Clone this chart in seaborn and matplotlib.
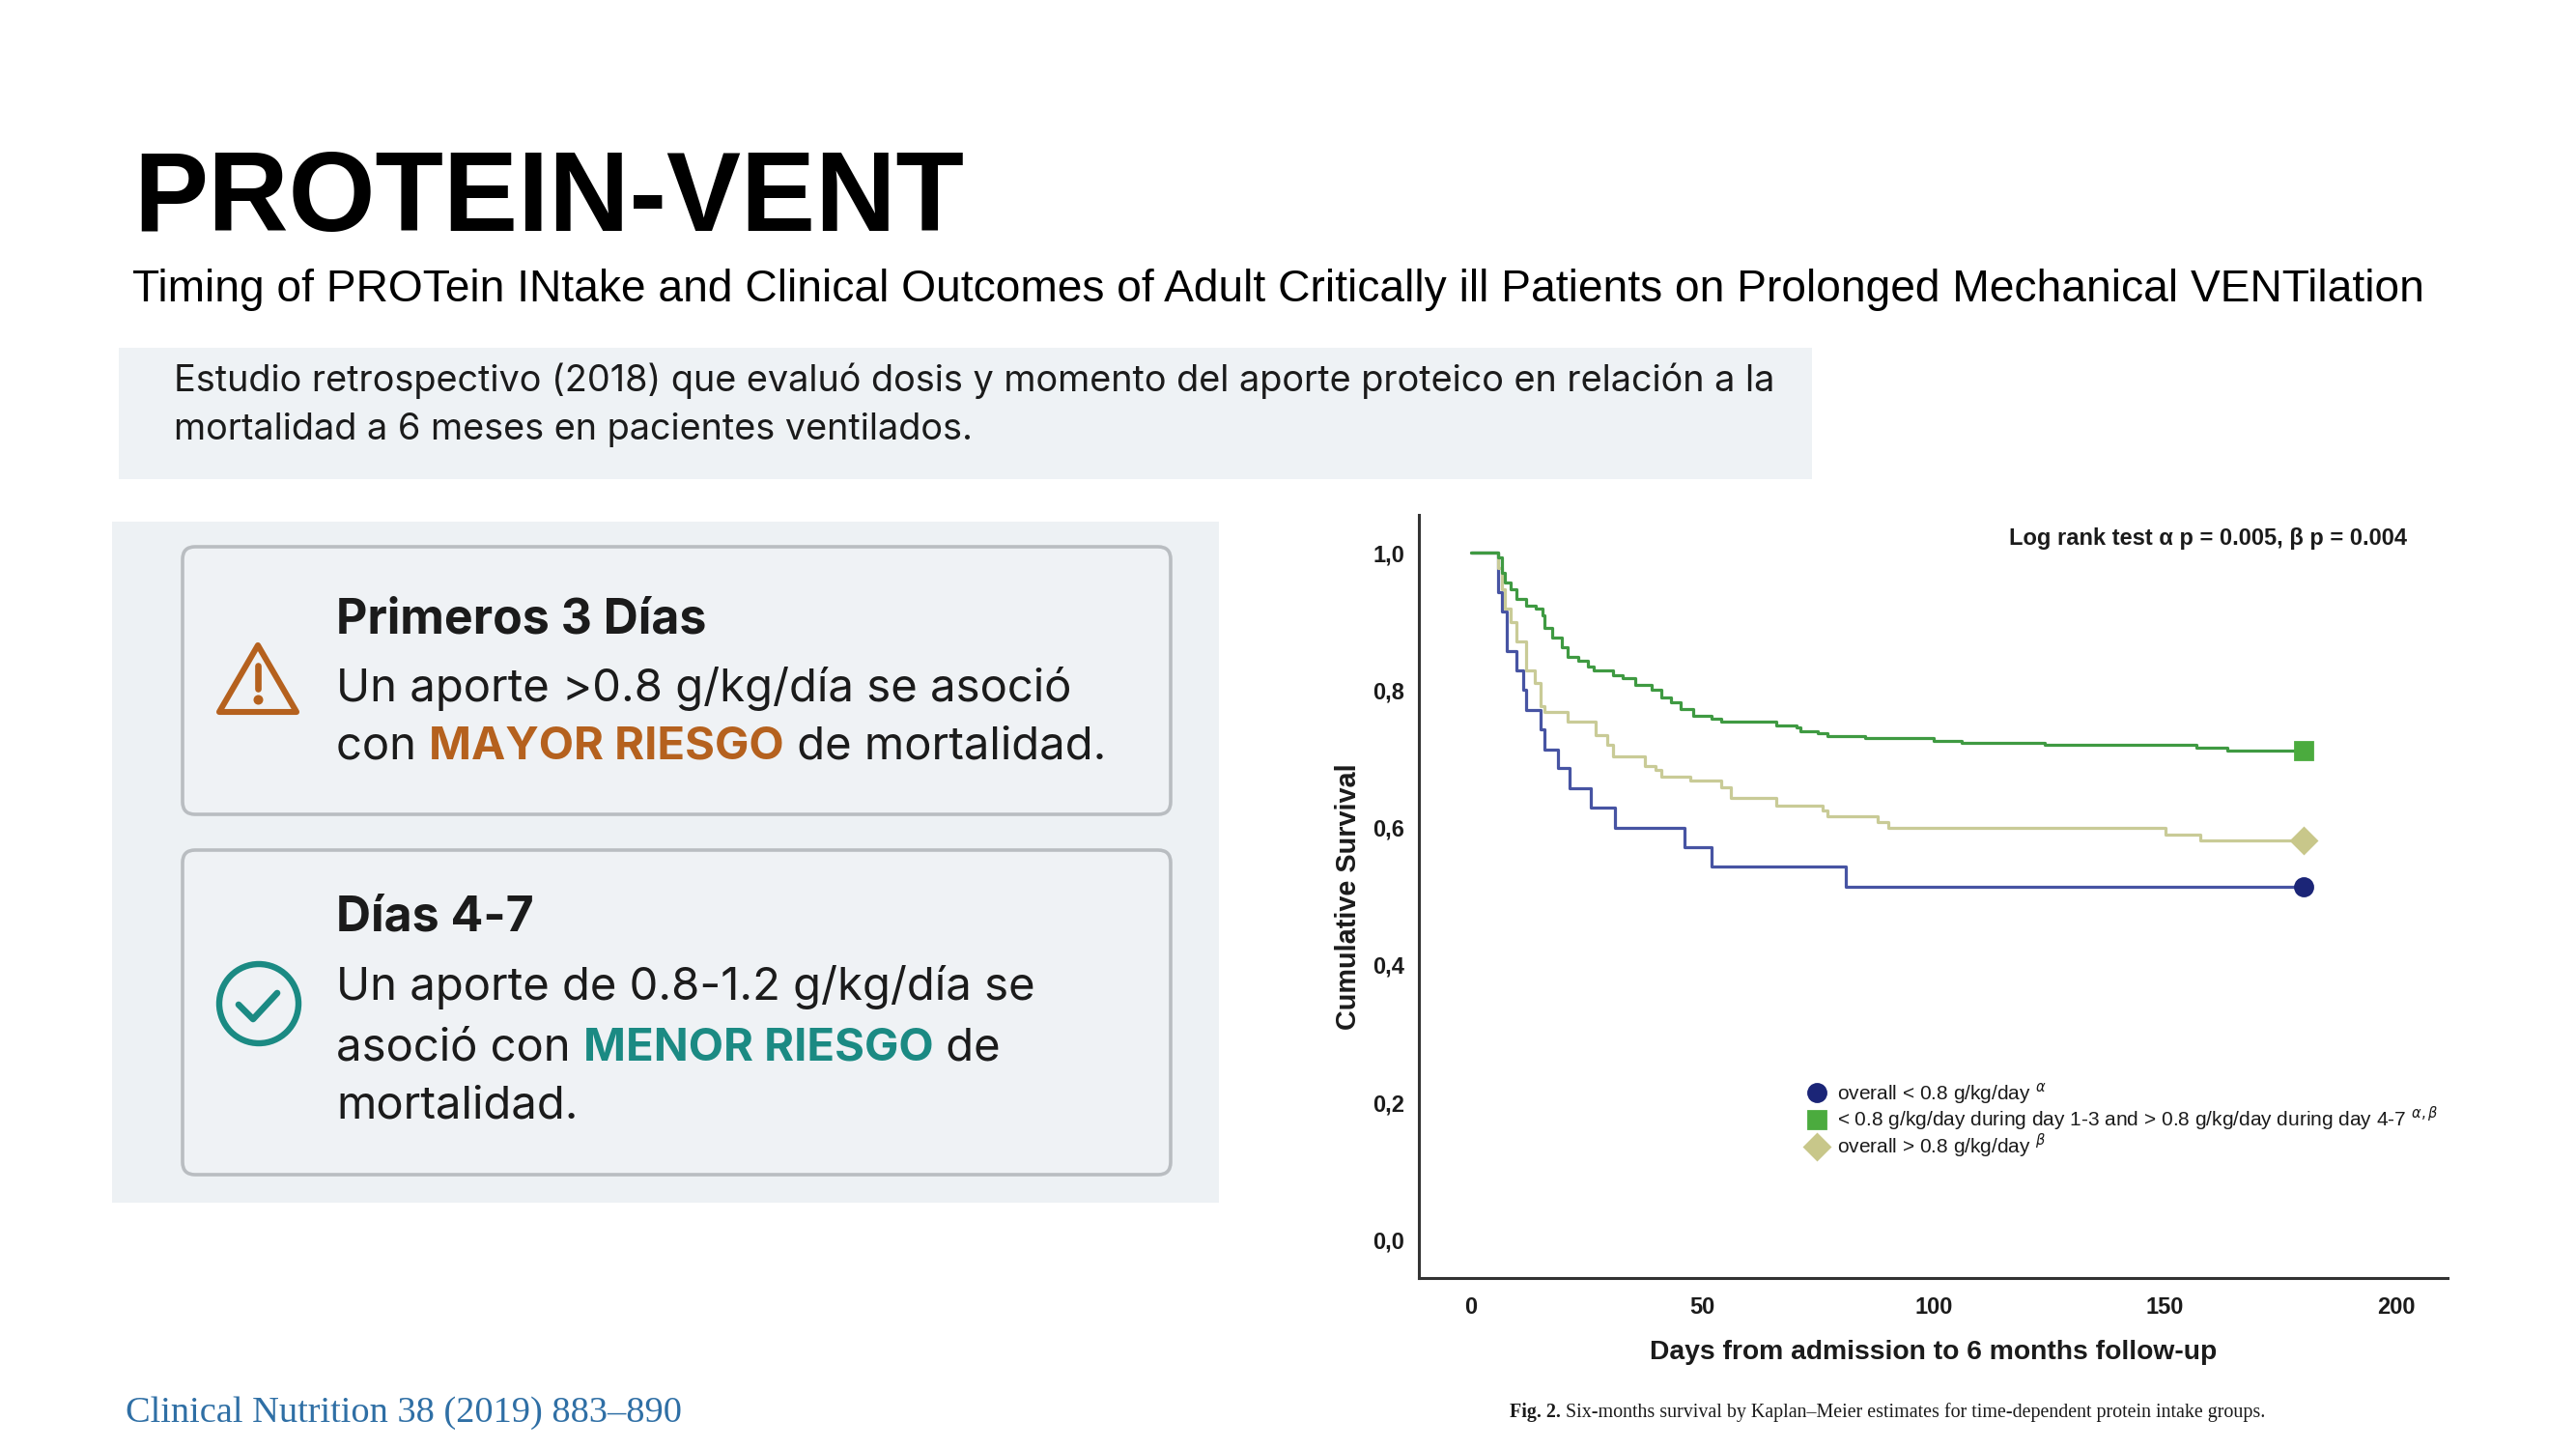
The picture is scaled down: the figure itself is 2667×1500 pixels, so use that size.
import pandas as pd
import seaborn as sns
import matplotlib.pyplot as plt
from matplotlib.patches import Rectangle, FancyBboxPatch, Polygon, Circle
from matplotlib.lines import Line2D

# Kaplan-Meier curves (day, cumulative survival)
blue_days = [0, 5.9, 6.7, 7.8, 9.9, 11.3, 12.0, 15.1, 15.8, 18.9, 21.4, 25.9, 31.1, 46.1, 52.1, 81.0, 180]
blue_surv = [1.0, 0.943, 0.914, 0.857, 0.829, 0.800, 0.771, 0.743, 0.714, 0.686, 0.657, 0.629, 0.600, 0.571, 0.543, 0.514, 0.514]

green_days = [0, 5.9, 6.7, 7.4, 8.5, 9.9, 12.0, 14.0, 15.4, 15.8, 17.5, 19.6, 21.0, 23.1, 25.2, 26.6, 30.8,
              32.8, 35.6, 39.1, 41.2, 43.3, 45.4, 48.1, 52.0, 54.1, 66.1, 70.4, 71.3, 74.9, 77.0, 85.2, 100.0,
              106.1, 124.0, 156.8, 163.5, 180]
green_surv = [1.0, 0.993, 0.970, 0.956, 0.946, 0.932, 0.923, 0.918, 0.909, 0.890, 0.876, 0.862, 0.848, 0.843,
              0.834, 0.829, 0.822, 0.817, 0.808, 0.801, 0.789, 0.782, 0.773, 0.763, 0.759, 0.754, 0.749, 0.745,
              0.740, 0.737, 0.733, 0.730, 0.726, 0.723, 0.720, 0.716, 0.712, 0.712]

khaki_days = [0, 5.9, 6.7, 7.4, 8.5, 9.9, 12.0, 13.7, 15.1, 15.8, 21.0, 26.9, 29.4, 30.8, 37.7, 39.8, 41.2,
              47.5, 54.1, 56.2, 66.1, 76.0, 77.0, 88.0, 90.3, 150.1, 157.6, 180]
khaki_surv = [1.0, 0.977, 0.946, 0.918, 0.899, 0.871, 0.829, 0.810, 0.777, 0.768, 0.754, 0.735, 0.721, 0.703,
              0.689, 0.684, 0.674, 0.668, 0.658, 0.643, 0.632, 0.625, 0.617, 0.608, 0.600, 0.589, 0.581, 0.581]

group_names = ['overall < 0.8 g/kg/day $^{\\alpha}$',
               '< 0.8 g/kg/day during day 1-3 and > 0.8 g/kg/day during day 4-7 $^{\\alpha,\\beta}$',
               'overall > 0.8 g/kg/day $^{\\beta}$']
x_ticks = [0, 50, 100, 150, 200]
y_ticks = [0.0, 0.2, 0.4, 0.6, 0.8, 1.0]
y_tick_labels = ['0,0', '0,2', '0,4', '0,6', '0,8', '1,0']

line_colors = {'low': '#4754a3', 'mixed': '#3f9a42', 'high': '#c9cb97'}
marker_colors = {'low': '#1b2577', 'mixed': '#4bab3e', 'high': '#c8c78a'}
marker_shapes = {'low': 'o', 'mixed': 's', 'high': 'D'}
marker_sizes = {'low': 6.5, 'mixed': 6.5, 'high': 6.5}

sns.set_style('white')
plt.rcParams['font.family'] = ['Liberation Sans', 'DejaVu Sans']
INTER = ['Inter', 'DejaVu Sans']
SERIF = ['Liberation Serif', 'DejaVu Serif']
INK = '#1b1b1b'

frames = []
for key, d, s in [('low', blue_days, blue_surv), ('mixed', green_days, green_surv), ('high', khaki_days, khaki_surv)]:
    frames.append(pd.DataFrame({'day': d, 'surv': s, 'group': key}))
df = pd.concat(frames, ignore_index=True)

fig = plt.figure(figsize=(13.335, 7.5), dpi=200)

# background layer in pixel coordinates (y down)
bg = fig.add_axes([0, 0, 1, 1], zorder=0)
bg.set_xlim(0, 2667)
bg.set_ylim(1500, 0)
bg.axis('off')

bg.text(138, 239, 'PROTEIN-VENT', fontsize=41.6, fontweight='bold', color='black', va='baseline')
bg.text(137, 312, 'Timing of PROTein INtake and Clinical Outcomes of Adult Critically ill Patients on '
        'Prolonged Mechanical VENTilation', fontsize=16.6, color='black', va='baseline')

bg.add_patch(Rectangle((123, 360), 1753, 136, facecolor='#eef2f5', edgecolor='none'))
bg.text(180, 405, 'Estudio retrospectivo (2018) que evaluó dosis y momento del aporte proteico en relación a la',
        fontsize=13.64, family=INTER, color=INK, va='baseline')
bg.text(180, 455, 'mortalidad a 6 meses en pacientes ventilados.',
        fontsize=13.64, family=INTER, color=INK, va='baseline')

bg.add_patch(Rectangle((116, 540), 1146, 705, facecolor='#edf1f4', edgecolor='none'))
for top, h in [(566, 277), (880, 336)]:
    bg.add_patch(FancyBboxPatch((189, top), 1023, h, boxstyle='round,pad=0,rounding_size=13',
                                facecolor='#eff2f5', edgecolor='#b9bdc1', linewidth=1.3))


def chain(pieces, x, y, size=17):
    """Write coloured pieces one after another on the same baseline."""
    prev = None
    for txt, color, weight in pieces:
        if prev is None:
            prev = bg.text(x, y, txt, fontsize=size, family=INTER, color=color, fontweight=weight, va='baseline')
        else:
            prev = bg.annotate(txt, xy=(1, 0), xycoords=prev, fontsize=size, family=INTER, color=color,
                               fontweight=weight, va='bottom', ha='left')
    return prev


ORANGE = '#b5611e'
TEAL = '#1b8a83'
chain([('Primeros 3 Días', INK, 'bold')], 348, 655, size=18)
chain([('Un aporte >0.8 g/kg/día se asoció', INK, 'normal')], 348, 726)
chain([('con ', INK, 'normal'), ('MAYOR RIESGO', ORANGE, 'bold'), (' de mortalidad.', INK, 'normal')], 348, 786)
chain([('Días 4-7', INK, 'bold')], 348, 964, size=18)
chain([('Un aporte de 0.8-1.2 g/kg/día se', INK, 'normal')], 348, 1035)
chain([('asoció con ', INK, 'normal'), ('MENOR RIESGO', TEAL, 'bold'), (' de', INK, 'normal')], 348, 1097)
chain([('mortalidad.', INK, 'normal')], 348, 1157)

# warning icon
bg.add_patch(Polygon([(267, 668), (227, 737), (307, 737)], closed=True, facecolor='none',
                     edgecolor=ORANGE, linewidth=2.2, joinstyle='round'))
bg.plot([267, 267], [689, 713], color=ORANGE, lw=2.4, solid_capstyle='round')
bg.plot([267], [724], marker='o', color=ORANGE, markersize=2.6)
# check icon
bg.add_patch(Circle((268, 1039), 41, facecolor='none', edgecolor=TEAL, linewidth=2.3))
bg.plot([247, 262, 287], [1040, 1055, 1028], color=TEAL, lw=2.4, solid_capstyle='round',
        solid_joinstyle='round')

bg.text(130, 1463, 'Clinical Nutrition 38 (2019) 883\u2013890', fontsize=13.8, family=SERIF,
        color='#2f6fa5', va='center')
cap = bg.text(1563, 1462, 'Fig. 2.', fontsize=7.2, family=SERIF, fontweight='bold', color=INK, va='center')
bg.annotate(' Six-months survival by Kaplan\u2013Meier estimates for time-dependent protein intake groups.',
            xy=(1, 0), xycoords=cap, fontsize=7.2, family=SERIF, color=INK, va='bottom', ha='left')

# Kaplan-Meier chart
ax = fig.add_axes([0.5509, 0.1183, 0.3994, 0.5264], zorder=2)
ax.patch.set_alpha(0)
sns.lineplot(data=df, x='day', y='surv', hue='group', palette=line_colors, hue_order=['low', 'high', 'mixed'],
             estimator=None, sort=False, drawstyle='steps-post', linewidth=1.15, legend=False, ax=ax)
for key, d, s in [('low', blue_days, blue_surv), ('mixed', green_days, green_surv), ('high', khaki_days, khaki_surv)]:
    ax.plot(d[-1], s[-1], marker=marker_shapes[key], color=marker_colors[key],
            markersize=marker_sizes[key], linestyle='None', zorder=5)

ax.set_xlim(-11.2, 211.2)
ax.set_ylim(-0.055, 1.055)
ax.set_xticks(x_ticks)
ax.set_xticklabels([str(t) for t in x_ticks])
ax.set_yticks(y_ticks)
ax.set_yticklabels(y_tick_labels)
for side in ['top', 'right']:
    ax.spines[side].set_visible(False)
for side in ['left', 'bottom']:
    ax.spines[side].set_linewidth(1.1)
    ax.spines[side].set_color('#333333')
ax.tick_params(axis='both', direction='out', color='#333333', width=1.0, labelsize=8.5, labelcolor=INK)
ax.tick_params(axis='y', length=4.6, pad=0.8)
ax.tick_params(axis='x', length=5, pad=2)
for lab in ax.get_xticklabels() + ax.get_yticklabels():
    lab.set_fontweight('bold')

ax.set_xlabel('Days from admission to 6 months follow-up', fontsize=10.2, fontweight='bold',
              color=INK, labelpad=8)
ax.set_ylabel('Cumulative Survival', fontsize=10.4, fontweight='bold', color=INK, labelpad=4)

ax.text(202.3, 1.02, 'Log rank test \u03b1 p = 0.005, \u03b2 p = 0.004', ha='right', va='center',
        fontsize=8.5, fontweight='bold', color=INK)

handles = [Line2D([], [], marker=marker_shapes[k], color=marker_colors[k], linestyle='None',
                  markersize=marker_sizes[k]) for k in ['low', 'mixed', 'high']]
ax.legend(handles, group_names, loc='center left', bbox_to_anchor=(0.377, 0.206), frameon=False,
          prop={'size': 7.5}, labelcolor=INK, handlelength=1.0, handletextpad=0.5,
          labelspacing=-0.05, borderpad=0, borderaxespad=0)

fig.savefig('out.png', dpi=200, facecolor='white')
